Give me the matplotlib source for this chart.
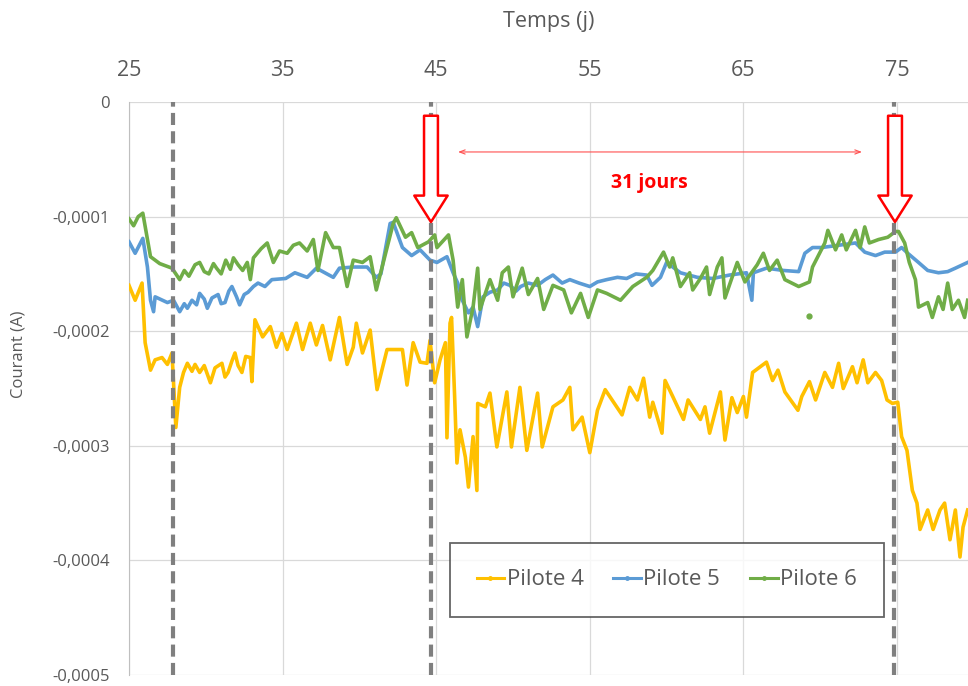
import numpy as np
import matplotlib
matplotlib.use("Agg")
import matplotlib.pyplot as plt
from matplotlib.lines import Line2D
from matplotlib.ticker import FuncFormatter, MultipleLocator

plt.rcParams['font.family'] = ['Open Sans', 'DejaVu Sans']

# Courant des pilotes (en µA) en fonction du temps (jours)
p4_jours = [25.0, 25.4, 25.85, 26.05, 26.4, 26.7, 27.15, 27.5, 27.8, 28.05, 28.3, 28.55,
            28.8, 29.1, 29.3, 29.6, 29.9, 30.3, 30.6, 31.05, 31.25, 31.45, 31.7, 31.9,
            32.1, 32.35, 32.6, 32.9, 33.0, 33.2, 33.7, 34.2, 34.6,
            34.95, 35.3, 35.9, 36.3, 36.8, 37.2, 37.6, 38.1, 38.7, 39.2, 39.6, 39.8,
            40.2, 40.7, 41.15, 41.8, 42.8, 43.1, 43.5, 43.95, 44.4, 44.6, 44.9, 45.25,
            45.6, 45.7, 45.9, 46.0, 46.2, 46.35, 46.55, 46.9, 47.1, 47.4, 47.65, 47.7,
            48.2, 48.5, 48.95, 49.6, 49.9, 50.45, 50.9, 51.6, 51.9, 52.6, 53.25, 53.7,
            53.9, 54.5, 55.0, 55.5, 56.0, 56.45, 57.1, 57.6, 58.1, 58.5, 58.9, 59.1,
            59.7, 59.9, 60.4, 61.1, 61.4, 62.2, 62.5, 62.8, 63.5, 63.8, 64.25, 64.6,
            65.0, 65.2, 65.6, 66.5, 66.9, 67.25, 67.7, 68.55, 68.8, 69.3, 69.7, 70.3,
            70.8, 71.2, 71.5, 72.1, 72.4, 72.8, 73.1, 73.6, 74.0, 74.35, 74.7, 75.05,
            75.3, 75.65, 76.0, 76.3, 76.5, 77.0, 77.35, 77.8, 78.1, 78.45, 78.8, 79.1,
            79.3, 79.6]
p4_courant = [-160, -173, -158, -210, -234, -225, -223, -229, -219, -284, -249, -236,
              -228, -235, -229, -236, -230, -245, -232, -228, -240, -236, -226, -219,
              -230, -236, -222, -223, -244, -190, -205, -196, -214,
              -202, -216, -193, -216, -193, -212, -195, -225, -188, -229, -214, -193,
              -219, -199, -251, -216, -216, -247, -210, -227, -228, -208, -245, -225,
              -210, -293, -193, -188, -257, -315, -286, -310, -336, -292, -339, -263,
              -266, -254, -301, -253, -301, -249, -304, -254, -301, -266, -260, -249,
              -286, -275, -306, -269, -251, -260, -273, -249, -260, -241, -275, -262,
              -289, -243, -257, -277, -260, -277, -266, -289, -253, -295, -258, -271,
              -257, -275, -236, -227, -243, -234, -253, -269, -257, -244, -260, -236,
              -249, -228, -250, -231, -245, -225, -245, -236, -243, -260, -263, -262,
              -292, -304, -339, -350, -373, -356, -373, -356, -350, -382, -356, -397,
              -371, -356]

p5_jours = [25.0, 25.4, 25.9, 26.2, 26.4, 26.6, 26.7, 27.5, 27.9, 28.3, 28.6, 28.8,
            29.1, 29.4, 29.6, 29.9, 30.1, 30.4, 30.8, 31.0, 31.25, 31.5, 31.7, 32.0,
            32.2, 32.5, 32.75, 33.1, 33.4, 33.85, 34.3, 35.2, 35.8,
            36.6, 37.2, 38.3, 38.7, 39.6, 40.5, 41.1, 41.4, 42.0, 42.2, 42.8, 43.4,
            43.95, 44.6, 45.05, 45.7, 46.1, 46.4, 46.7, 47.1, 47.4, 47.7, 48.05, 48.5,
            49.0, 49.4, 49.8, 50.2, 50.5, 51.0, 51.6, 52.1, 52.6, 53.2, 53.7, 54.3,
            55.0, 55.5, 56.1, 56.8, 57.4, 58.0, 58.7, 59.05, 59.6,
            60.0, 60.9, 62.0, 63.0, 64.1, 65.2, 65.55, 65.65, 66.5, 67.6, 68.6, 69.0,
            69.5, 70.1, 71.2, 72.3, 72.9, 73.6, 74.2, 74.9, 75.3, 75.7, 76.4, 77.0,
            77.7, 78.3, 78.8, 79.6]
p5_courant = [-122, -132, -119, -144, -173, -183, -170, -175, -173, -183, -176, -180,
              -173, -177, -167, -172, -180, -171, -168, -176, -175, -165, -161, -170,
              -177, -168, -166, -161, -158, -161, -155, -154, -149,
              -153, -145, -153, -145, -144, -144, -153, -150, -106, -105, -127, -134,
              -129, -138, -140, -135, -149, -158, -173, -184, -179, -196, -170, -166,
              -164, -158, -160, -165, -161, -158, -160, -155, -151, -158, -155, -158,
              -161, -157, -155, -153, -154, -150, -151, -160, -153,
              -140, -149, -153, -154, -151, -149, -173, -149, -145, -147, -148, -132,
              -127, -127, -125, -123, -131, -134, -131, -131, -127, -132, -140, -147,
              -149, -148, -145, -140]

p6_jours = [25.0, 25.3, 25.6, 25.9, 26.1, 26.4, 27.0, 27.8, 28.3, 28.6, 28.9, 29.3,
            29.6, 29.9, 30.2, 30.5, 30.7, 31.0, 31.3, 31.6, 31.8, 32.1, 32.4, 32.7,
            32.9, 33.1, 33.6, 34.0, 34.4, 34.8, 35.3, 35.7,
            36.1, 36.6, 37.0, 37.3, 37.8, 38.3, 38.7, 39.2, 39.6, 40.2, 40.7, 41.1,
            41.8, 42.2, 42.4, 43.0, 43.4, 43.8, 44.5, 44.9, 45.05, 45.8, 46.1, 46.4,
            46.7, 47.0, 47.4, 47.7, 47.85, 48.5, 49.0, 49.3, 49.7, 50.0, 50.6, 51.0,
            51.6, 52.0, 52.6, 53.3, 53.8, 54.4, 54.9, 55.5, 56.1, 57.0, 57.8, 58.7,
            59.1, 59.8, 60.2, 60.4, 60.9, 61.5, 61.7, 62.2, 62.6, 62.8, 63.3, 63.6,
            63.8, 64.6, 65.1, 65.9, 66.3, 66.7, 67.2, 67.7, 68.6, 69.3, 69.5, 70.3,
            70.5, 71.0, 71.4, 71.7, 72.3, 72.6, 72.9, 73.2, 73.8, 74.4, 74.9, 75.1,
            75.5, 75.8, 76.2, 76.4, 77.0, 77.3, 77.7, 78.0, 78.3, 78.6, 79.0, 79.4,
            79.6]
p6_courant = [-102, -108, -100, -97, -112, -135, -141, -145, -155, -147, -152, -142,
              -140, -148, -150, -141, -145, -150, -138, -146, -136, -142, -147, -140,
              -155, -136, -128, -123, -140, -130, -132, -125,
              -123, -130, -120, -147, -114, -127, -127, -161, -138, -140, -135, -164,
              -127, -106, -101, -118, -114, -127, -122, -116, -127, -116, -138, -179,
              -155, -205, -179, -145, -181, -155, -173, -149, -144, -170, -145, -168,
              -154, -181, -160, -164, -184, -167, -188, -164, -167, -173, -161, -153,
              -147, -131, -144, -136, -161, -149, -164, -154, -144, -168, -144, -136,
              -171, -140, -157, -142, -132, -147, -138, -155, -161, -157, -144, -123,
              -112, -129, -116, -129, -112, -127, -109, -123, -120, -118, -113, -113,
              -123, -140, -155, -179, -175, -188, -170, -181, -158, -181, -173, -188,
              -173]
# point isolé du pilote 6
p6_isole_jour = [69.3]
p6_isole_courant = [-187]

jours_ticks = [25, 35, 45, 55, 65, 75]
jours_changement = [27.86, 44.66, 74.8]
jours_fleches = [44.66, 74.87]

c4, c5, c6 = '#FFC000', '#5B9BD5', '#70AD47'
gris = '#595959'

fig = plt.figure(figsize=(9.68, 6.86), dpi=100)
ax = fig.add_axes([129 / 968, 11 / 686, 839 / 968, 573 / 686])

lw = 2.6
ax.plot(p4_jours, np.array(p4_courant) * 1e-6, color=c4, lw=lw, zorder=3)
ax.plot(p5_jours, np.array(p5_courant) * 1e-6, color=c5, lw=lw, zorder=3)
ax.plot(p6_jours, np.array(p6_courant) * 1e-6, color=c6, lw=lw, zorder=3)
ax.plot(p6_isole_jour, np.array(p6_isole_courant) * 1e-6, 'o', color=c6, ms=3.5, zorder=3)

for j in jours_changement:
    ax.axvline(j, color='#7F7F7F', lw=3, ls=(0, (2.9, 1.5)), zorder=4)

# flèches creuses rouges
for j in jours_fleches:
    ax.annotate('', xy=(j, -104.7e-6), xytext=(j, -12e-6),
                arrowprops=dict(arrowstyle='simple,head_width=1.2,head_length=0.95,tail_width=0.5',
                                mutation_scale=20, fc='white', ec='#FF0000', lw=1.8,
                                shrinkA=0, shrinkB=0),
                zorder=6)

ax.annotate('', xy=(46.42, -43.6e-6), xytext=(72.72, -43.6e-6),
            arrowprops=dict(arrowstyle='<->,head_length=0.4,head_width=0.15',
                            color='#FF5050', lw=0.8, shrinkA=0, shrinkB=0), zorder=5)
ax.text(58.9, -70.7e-6, '31 jours', color='#FF0000', fontsize=14, fontweight='bold',
        ha='center', va='center', zorder=5)

ax.set_xlim(25, 25 + 839 / 15.36)
ax.set_ylim(-0.0005, 0)
ax.set_xticks(jours_ticks)
ax.yaxis.set_major_locator(MultipleLocator(0.0001))
ax.yaxis.set_major_formatter(FuncFormatter(
    lambda v, p: '0' if abs(v) < 1e-12 else f'{v:.4f}'.replace('.', ',')))

ax.xaxis.tick_top()
ax.xaxis.set_label_position('top')
ax.set_xlabel('Temps (j)', fontsize=15.5, color=gris, labelpad=24)
ax.set_ylabel('Courant (A)', fontsize=12, color=gris)
ax.yaxis.set_label_coords(-0.122, 0.56)

ax.tick_params(axis='x', length=0, pad=15, labelsize=15.5, labelcolor=gris)
ax.tick_params(axis='y', length=0, pad=14, labelsize=12, labelcolor=gris)

ax.grid(True, color='#D9D9D9', lw=0.9, zorder=0)
ax.set_axisbelow(True)
for s in ['right', 'bottom', 'top']:
    ax.spines[s].set_visible(False)
ax.spines['left'].set_color('#BFBFBF')

handles = [Line2D([], [], color=c, lw=2.2, marker='o', ms=2.5) for c in (c4, c5, c6)]
leg = ax.legend(handles, ['Pilote 4', 'Pilote 5', 'Pilote 6'], ncol=3, loc='center',
                bbox_to_anchor=(0.641, 0.166), fontsize=16, frameon=True, fancybox=False,
                edgecolor='#404040', handlelength=1.25, handletextpad=0.1,
                columnspacing=1.35, borderpad=1.2, labelcolor=gris)
leg.get_frame().set_linewidth(1.3)
leg.set_zorder(7)

fig.savefig('out.png', dpi=100)
